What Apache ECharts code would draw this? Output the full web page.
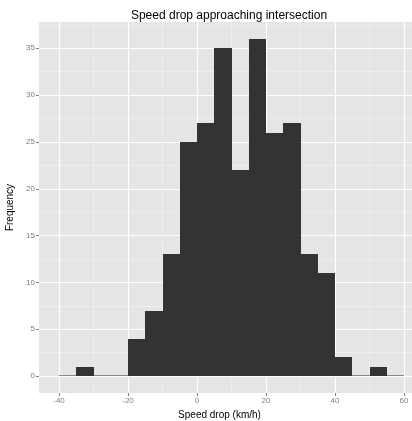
<!DOCTYPE html>
<html>
<head>
<meta charset="utf-8">
<script src="https://cdn.jsdelivr.net/npm/echarts@6/dist/echarts.min.js"></script>
<style>
  html, body { margin: 0; padding: 0; background: #fff; }
  #chart { width: 412px; height: 421px; }
</style>
</head>
<body>
<div id="chart"></div>
<script>
// Histogram of speed drop, 5 km/h bins
const binStarts = [-40, -35, -30, -25, -20, -15, -10, -5, 0, 5, 10, 15, 20, 25, 30, 35, 40, 45, 50, 55];
const binCounts = [0, 1, 0, 0, 4, 7, 13, 25, 27, 35, 22, 36, 26, 27, 13, 11, 2, 0, 1, 0];
const binWidth = 5;

const xMajorTicks = [-40, -20, 0, 20, 40, 60];
const xMinorTicks = [-30, -10, 10, 30, 50];
const yMajorTicks = [0, 5, 10, 15, 20, 25, 30, 35];
const yMinorTicks = [2.5, 7.5, 12.5, 17.5, 22.5, 27.5, 32.5, 37.5];

const titleText = 'Speed drop approaching intersection';
const xTitle = 'Speed drop (km/h)';
const yTitle = 'Frequency';

// panel runs to the right edge of the canvas
const xRange = [-45.8, 62.3];
const yRange = [-1.8, 37.8];

const bins = binStarts.map((s, i) => [s, s + binWidth, binCounts[i]]);

const font = '"Liberation Sans", Arial, sans-serif';
const tickGrey = '#7F7F7F';

const chart = echarts.init(document.getElementById('chart'), null, { renderer: 'canvas' });

function majorAxis(range, ticks, extra) {
  return Object.assign({
    type: 'value',
    min: range[0],
    max: range[1],
    axisLine: { show: false, onZero: false },
    axisTick: { show: true, customValues: ticks, length: 3, lineStyle: { color: tickGrey, width: 1 } },
    axisLabel: { show: true, customValues: ticks, color: tickGrey, fontSize: 8, fontFamily: font, margin: 4 },
    splitLine: { show: true, lineStyle: { color: '#FFFFFF', width: 1.2 } }
  }, extra);
}

function minorAxis(range, ticks, extra) {
  return Object.assign({
    type: 'value',
    min: range[0],
    max: range[1],
    axisLine: { show: false, onZero: false },
    axisTick: { show: false, customValues: ticks },
    axisLabel: { show: false, customValues: ticks },
    splitLine: { show: true, lineStyle: { color: '#F2F2F2', width: 0.6 } }
  }, extra);
}

chart.setOption({
  animation: false,
  backgroundColor: '#FFFFFF',
  title: {
    text: titleText,
    left: 224,
    top: 5,
    textAlign: 'center',
    textStyle: { fontFamily: font, fontSize: 12, fontWeight: 'normal', color: '#000' }
  },
  grid: {
    left: 39, top: 22, right: 0, bottom: 28,
    show: true, backgroundColor: '#E5E5E5', borderWidth: 0,
    containLabel: false,
    outerBoundsMode: 'none'
  },
  xAxis: [
    majorAxis(xRange, xMajorTicks, {
      name: xTitle,
      nameLocation: 'middle',
      nameGap: 13,
      nameTextStyle: { fontFamily: font, fontSize: 10, color: '#000', padding: [0, 12, 0, 0] }
    }),
    minorAxis(xRange, xMinorTicks, { position: 'bottom' })
  ],
  yAxis: [
    majorAxis(yRange, yMajorTicks, {
      name: yTitle,
      nameLocation: 'middle',
      nameGap: 20,
      nameRotate: 90,
      nameTextStyle: { fontFamily: font, fontSize: 10, color: '#000' }
    }),
    minorAxis(yRange, yMinorTicks, { position: 'left' })
  ],
  series: [{
    type: 'custom',
    xAxisIndex: 0,
    yAxisIndex: 0,
    data: bins,
    encode: { x: [0, 1], y: 2 },
    renderItem: function (params, api) {
      const x0 = api.value(0), x1 = api.value(1), c = api.value(2);
      const p0 = api.coord([x0, 0]);
      const p1 = api.coord([x1, c]);
      const left = Math.round(p0[0]), right = Math.round(p1[0]);
      const base = Math.round(p0[1]), top = Math.round(p1[1]);
      if (c === 0) {
        return {
          type: 'line',
          shape: { x1: left, y1: base - 0.5, x2: right, y2: base - 0.5 },
          style: { stroke: '#8A8A8A', lineWidth: 1 }
        };
      }
      return {
        type: 'rect',
        shape: { x: left, y: top, width: right - left, height: base - top },
        style: { fill: '#333333' }
      };
    }
  }]
});
</script>
</body>
</html>
